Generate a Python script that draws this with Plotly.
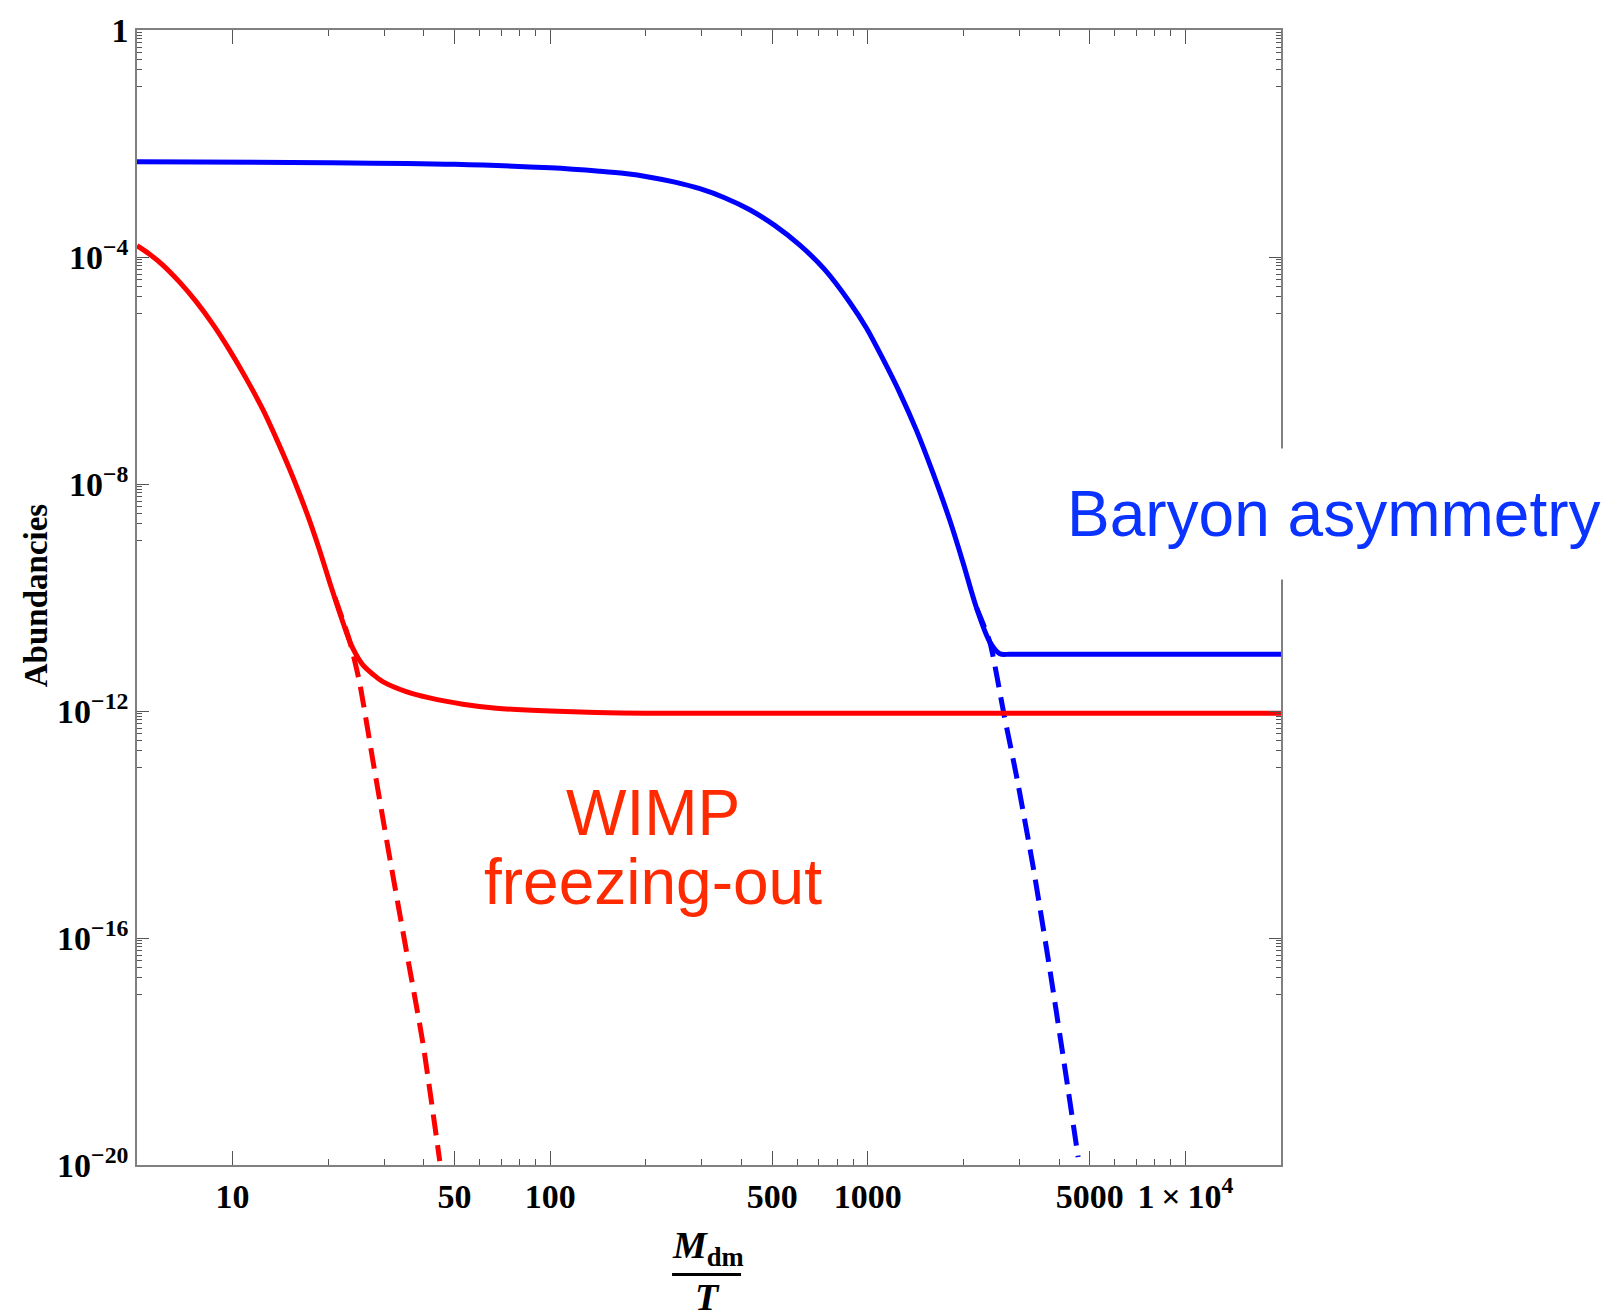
import plotly.graph_objects as go

# ---- data ----
# Baryon asymmetry (solid)
blue_x = [5, 20, 50, 100, 143, 172, 206, 247, 296, 354, 425, 509, 611, 732, 878, 990, 1117,
          1262, 1422, 1607, 1812, 1995, 2199, 2421, 2604, 2800, 3500, 20000]
blue_y = [4.75e-3, 4.6e-3, 4.3e-3, 3.72e-3, 3.24e-3, 2.95e-3, 2.55e-3, 2.09e-3, 1.60e-3, 1.11e-3,
          6.8e-4, 3.61e-4, 1.62e-4, 5.98e-5, 1.58e-5, 5.6e-6, 1.58e-6, 4.0e-7, 8.9e-8, 1.52e-8,
          2.29e-9, 4.1e-10, 6.6e-11, 1.66e-11, 1.02e-11, 1.0e-11, 1.0e-11, 1.0e-11]
# Baryon asymmetry equilibrium continuation (dashed)
blue_dash_x = [2199, 2421, 2680, 2940, 3317, 3744, 4227, 4594]
blue_dash_y = [6.6e-11, 1.66e-11, 9.1e-13, 7.1e-14, 1.78e-15, 2.75e-17, 3.2e-19, 1.38e-20]
# WIMP abundance (solid)
red_x = [5, 5.48, 6.03, 6.81, 7.69, 8.67, 9.78, 11.04, 12.46, 13.73, 15.12, 16.26, 17.48, 18.79,
         20.21, 21.73, 23.4, 24.5, 25.7, 27.7, 29.7, 35.2, 41.7, 53.1, 67.7, 100, 200, 20000]
red_y = [1.58e-4, 1.12e-4, 7.2e-5, 3.6e-5, 1.62e-5, 6.5e-6, 2.29e-6, 7.2e-7, 2.04e-7, 6.3e-8,
         1.82e-8, 6.6e-9, 2.24e-9, 6.8e-10, 1.86e-10, 5.4e-11, 1.66e-11, 9.8e-12, 6.5e-12, 4.4e-12,
         3.3e-12, 2.2e-12, 1.7e-12, 1.32e-12, 1.12e-12, 1.0e-12, 9.1e-13, 9.1e-13]
# WIMP equilibrium continuation (dashed)
red_dash_x = [21, 23.4, 25.1, 27.7, 31.2, 35.2, 39.7, 44.9]
red_dash_y = [1.0e-10, 1.66e-11, 3.2e-12, 1.26e-13, 2.7e-15, 6.2e-17, 1.45e-18, 1.17e-20]

x_tickvals = [10, 50, 100, 500, 1000, 5000, 10000]
x_ticktext = ["10", "50", "100", "500", "1000", "5000", "1\u2009\u00d7\u200910<sup>4</sup>"]
x_minor = [20, 30, 40, 60, 70, 80, 90, 200, 300, 400, 600, 700, 800, 900,
           2000, 3000, 4000, 6000, 7000, 8000, 9000]
y_tickvals = [1, 1e-4, 1e-8, 1e-12, 1e-16, 1e-20]
y_ticktext = ["1", "10<sup>\u22124</sup>", "10<sup>\u22128</sup>", "10<sup>\u221212</sup>",
              "10<sup>\u221216</sup>", "10<sup>\u221220</sup>"]
y_minor = [m * k / 10 for m in [1, 1e-4, 1e-8, 1e-12, 1e-16] for k in range(1, 10)]

BLUE = "#0000FF"
RED = "#FF0000"
LW = 5
DASH = "21px,10px"

fig = go.Figure()
fig.add_trace(go.Scatter(x=red_dash_x, y=red_dash_y, mode="lines",
                         line=dict(color=RED, width=LW, dash=DASH, shape="spline", smoothing=0.6)))
fig.add_trace(go.Scatter(x=blue_dash_x, y=blue_dash_y, mode="lines",
                         line=dict(color=BLUE, width=LW, dash=DASH, shape="spline", smoothing=0.6)))
fig.add_trace(go.Scatter(x=red_x, y=red_y, mode="lines",
                         line=dict(color=RED, width=LW, shape="spline", smoothing=0.9)))
fig.add_trace(go.Scatter(x=blue_x, y=blue_y, mode="lines",
                         line=dict(color=BLUE, width=LW, shape="spline", smoothing=0.9)))

axis_common = dict(
    showline=True, linecolor="#808080", linewidth=1.5, mirror="ticks",
    ticks="inside", tickcolor="#555", tickwidth=1.2, showgrid=False, zeroline=False,
    tickfont=dict(family="Liberation Serif", size=34, color="black", weight="bold"),
)

fig.update_xaxes(type="log", range=[0.69897, 4.30103], tickmode="array",
                 tickvals=x_tickvals, ticktext=x_ticktext, ticklen=14,
                 minor=dict(tickvals=x_minor, ticks="inside", ticklen=6, tickcolor="#555", tickwidth=1.2),
                 **axis_common)
fig.update_yaxes(type="log", range=[-20, 0], tickmode="array",
                 tickvals=y_tickvals, ticktext=y_ticktext, ticklen=12,
                 minor=dict(tickvals=y_minor, ticks="inside", ticklen=5, tickcolor="#555", tickwidth=1.2),
                 **axis_common)

annotations = [
    dict(text="Abundancies", textangle=-90, x=-0.0883, y=0.502, xref="paper", yref="paper",
         xanchor="center", yanchor="middle", showarrow=False,
         font=dict(family="Liberation Serif", size=33, color="black", weight="bold")),
    dict(text="Baryon asymmetry", x=1.0463, y=0.5737, xref="paper", yref="paper",
         xanchor="center", yanchor="middle", showarrow=False, bgcolor="white", borderpad=29,
         font=dict(family="Liberation Sans", size=64, color="#0A33FF")),
    dict(text="WIMP", x=0.451, y=0.3105, xref="paper", yref="paper",
         xanchor="center", yanchor="middle", showarrow=False,
         font=dict(family="Liberation Sans", size=64, color="#FF2A00")),
    dict(text="freezing-out", x=0.451, y=0.249, xref="paper", yref="paper",
         xanchor="center", yanchor="middle", showarrow=False,
         font=dict(family="Liberation Sans", size=64, color="#FF2A00")),
    dict(text="<b><i>M</i></b><sub><b>dm</b></sub>", x=0.499, y=-0.0728, xref="paper", yref="paper",
         xanchor="center", yanchor="middle", showarrow=False,
         font=dict(family="Liberation Serif", size=38, color="black")),
    dict(text="<b><i>T</i></b>", x=0.499, y=-0.1165, xref="paper", yref="paper",
         xanchor="center", yanchor="middle", showarrow=False,
         font=dict(family="Liberation Serif", size=38, color="black")),
]

fig.update_layout(
    width=1610, height=1316,
    margin=dict(l=137, r=329, t=25, b=151),
    paper_bgcolor="white", plot_bgcolor="white",
    showlegend=False,
    annotations=annotations,
    shapes=[dict(type="line", xref="paper", yref="paper", x0=0.4677, x1=0.528,
                 y0=-0.0965, y1=-0.0965, line=dict(color="black", width=3))],
)

fig.write_html("out.html")
